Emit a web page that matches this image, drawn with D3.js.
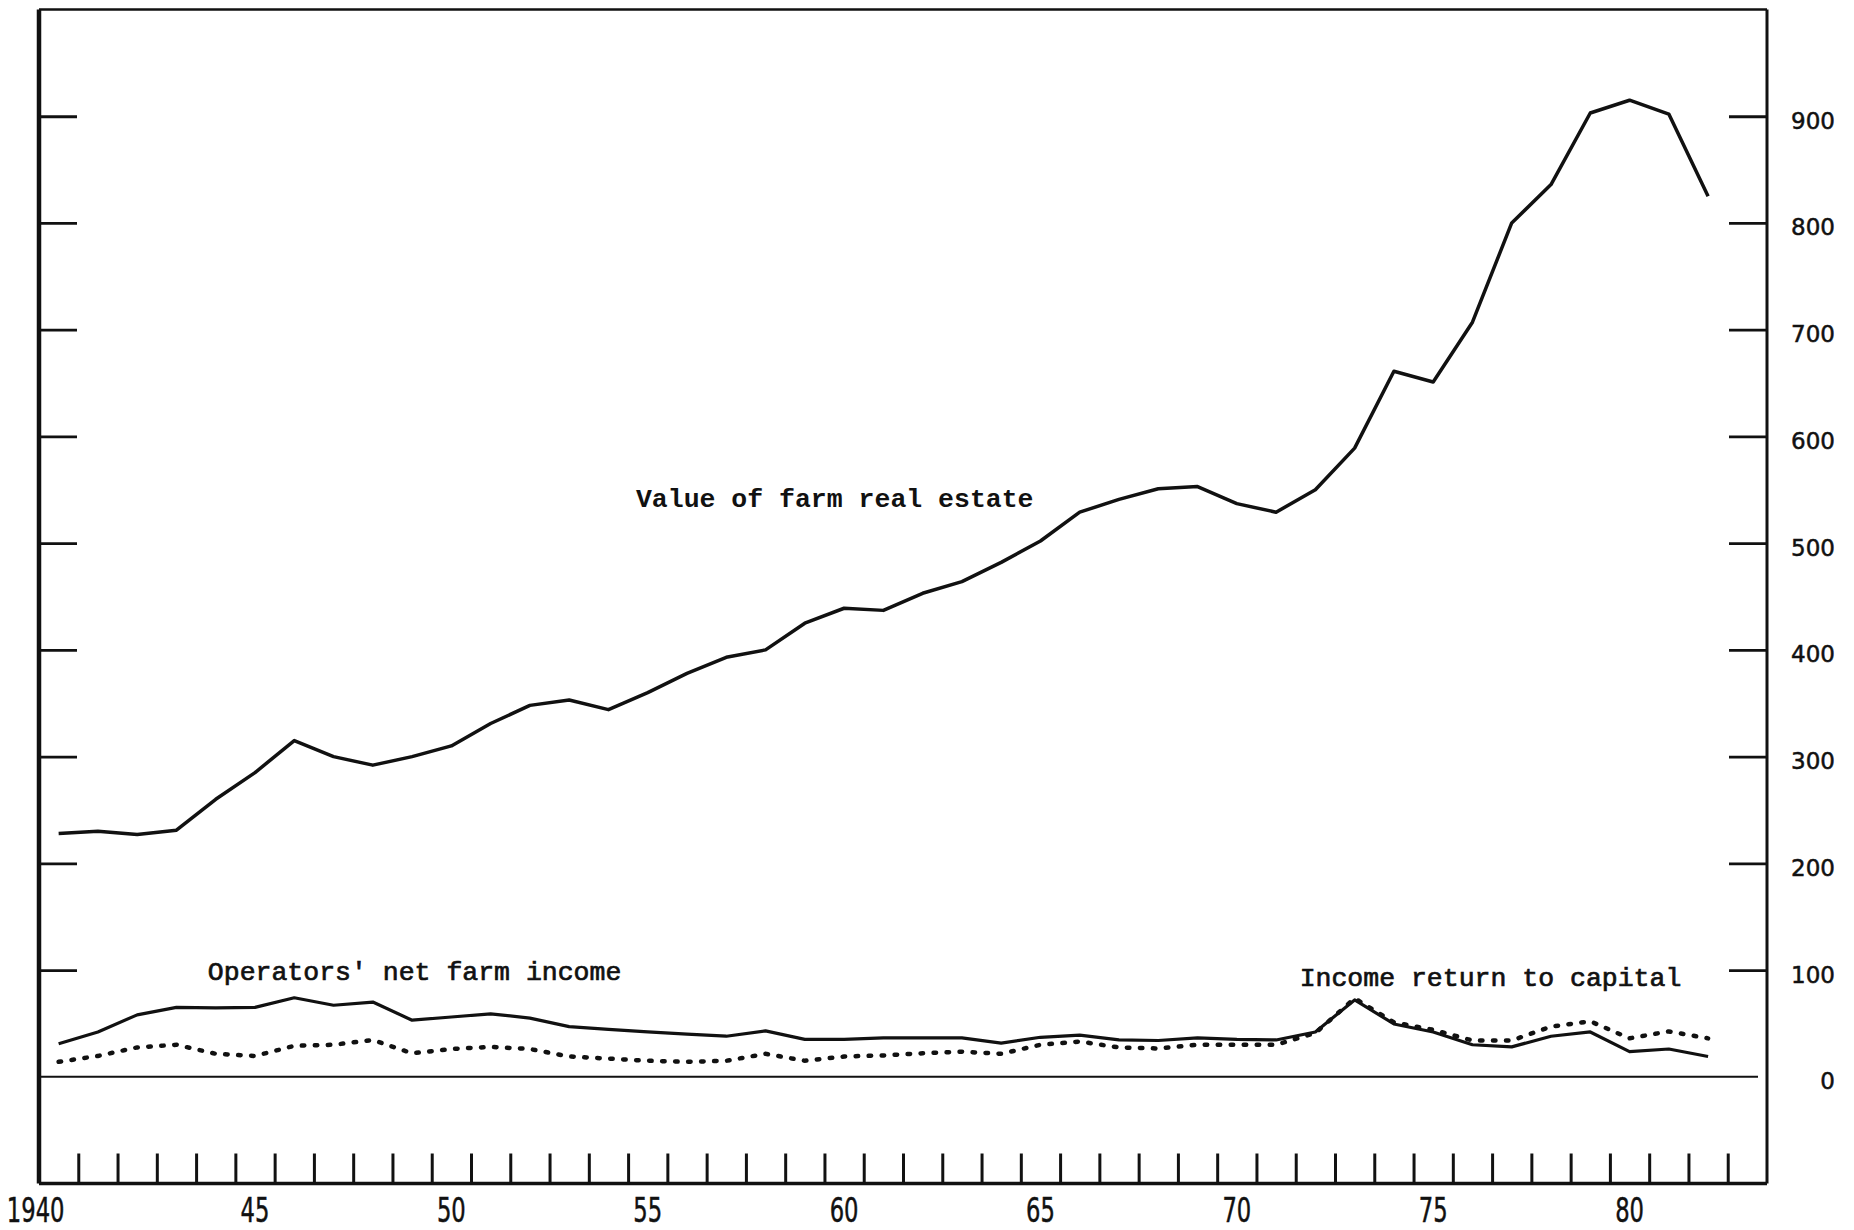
<!DOCTYPE html>
<html>
<head>
<meta charset="utf-8">
<script src="https://cdn.jsdelivr.net/npm/d3@7"></script>
<style>
  body { margin: 0; background: #fff; }
  svg { display: block; }
</style>
</head>
<body>
<div id="chart"></div>
<script>
var width = 1854,
    height = 1230;

// data (annual, plotted at mid-year)
var years = d3.range(1940, 1983);

var realEstate = [228, 230, 227, 231, 260, 285, 315, 300, 292, 300,
                  310, 331, 348, 353, 344, 360, 378, 393, 400, 425,
                  439, 437, 453, 464, 482, 502, 529, 541, 551, 553,
                  537, 529, 550, 589, 661, 651, 707, 800, 836, 903,
                  915, 902, 825];

var netIncome = [31, 42, 58, 65, 64.5, 65, 74, 67, 70, 53,
                 56, 59, 55, 47, 44.5, 42, 40, 38, 43, 35,
                 35, 36.5, 36.5, 36.5, 31.5, 37, 39, 34.5, 34, 36.5,
                 35, 34.5, 42, 72, 49.5, 42, 30, 28, 38, 42,
                 23.5, 26, 19];

var capitalReturn = [14, 19.5, 27.5, 30, 21.5, 19.5, 29, 30, 34.5, 22,
                     26, 28, 26, 19, 17, 15, 14, 15, 21.5, 15,
                     19, 20, 22, 23.5, 21.5, 30, 33, 27.5, 26.5, 30,
                     30, 30, 41, 73.5, 51, 44, 34, 34, 47, 52,
                     36, 42.5, 36];

var yTicks = [100, 200, 300, 400, 500, 600, 700, 800, 900];
var yLabels = [0, 100, 200, 300, 400, 500, 600, 700, 800, 900];
var xTicks = d3.range(1941, 1984);
var xLabelYears = [1940, 1945, 1950, 1955, 1960, 1965, 1970, 1975, 1980];
var xLabelText = ["1940", "45", "50", "55", "60", "65", "70", "75", "80"];

var svg = d3.select("#chart")
    .append("svg")
    .attr("width", width)
    .attr("height", height);

svg.append("rect")
    .attr("width", "100%")
    .attr("height", "100%")
    .attr("fill", "#fff");

var x = d3.scaleLinear().domain([1940, 1984]).range([39, 1767]);
var y = d3.scaleLinear().domain([-100, 1000]).range([1183.5, 9.5]);

var ink = "#111";

// frame
svg.append("line")
    .attr("x1", x(1940)).attr("x2", x(1984))
    .attr("y1", y(1000)).attr("y2", y(1000))
    .attr("stroke", ink).attr("stroke-width", 2.5);
svg.append("line")
    .attr("x1", x(1940)).attr("x2", x(1940))
    .attr("y1", y(1000)).attr("y2", y(-100))
    .attr("stroke", ink).attr("stroke-width", 4.5);
svg.append("line")
    .attr("x1", x(1984)).attr("x2", x(1984))
    .attr("y1", y(1000)).attr("y2", y(-100))
    .attr("stroke", ink).attr("stroke-width", 3);
svg.append("line")
    .attr("x1", x(1940)).attr("x2", x(1984))
    .attr("y1", y(-100)).attr("y2", y(-100))
    .attr("stroke", ink).attr("stroke-width", 3.5);

// zero line
svg.append("line")
    .attr("x1", x(1940)).attr("x2", x(1984) - 9)
    .attr("y1", y(0)).attr("y2", y(0))
    .attr("stroke", ink).attr("stroke-width", 2.2);

// left ticks (inward, no labels)
var leftAxis = svg.append("g")
    .attr("transform", "translate(" + x(1940) + ",0)")
    .call(d3.axisRight(y).tickValues(yTicks).tickSize(38).tickFormat(""));
leftAxis.select(".domain").remove();
leftAxis.selectAll("line").attr("stroke", ink).attr("stroke-width", 2.8);

// right ticks (inward) with labels outside
var rightAxis = svg.append("g")
    .attr("transform", "translate(" + x(1984) + ",0)")
    .call(d3.axisLeft(y).tickValues(yTicks).tickSize(38).tickFormat(""));
rightAxis.select(".domain").remove();
rightAxis.selectAll("line").attr("stroke", ink).attr("stroke-width", 2.8);

svg.append("g")
    .selectAll("text")
    .data(yLabels)
    .enter().append("text")
    .attr("x", x(1984) + 68)
    .attr("y", function(d) { return y(d) + 4.5; })
    .attr("text-anchor", "end")
    .attr("dominant-baseline", "central")
    .style("font-family", "'DejaVu Sans', sans-serif")
    .style("font-size", "23px")
    .attr("fill", ink)
    .attr("stroke", ink)
    .attr("stroke-width", 0.5)
    .text(function(d) { return d; });

// bottom ticks (upward)
var bottomAxis = svg.append("g")
    .attr("transform", "translate(0," + y(-100) + ")")
    .call(d3.axisTop(x).tickValues(xTicks).tickSize(30).tickFormat(""));
bottomAxis.select(".domain").remove();
bottomAxis.selectAll("line").attr("stroke", ink).attr("stroke-width", 3);

svg.append("g")
    .selectAll("text")
    .data(xLabelYears)
    .enter().append("text")
    .attr("transform", function(d, i) {
        var dx = i === 0 ? -23 : 0;
        return "translate(" + (x(d + 0.5) + dx) + ",1211) scale(0.84,1.1)";
    })
    .attr("text-anchor", "middle")
    .attr("dominant-baseline", "central")
    .style("font-family", "'Liberation Sans Narrow', 'DejaVu Sans Condensed', sans-serif")
    .style("font-stretch", "condensed")
    .style("font-size", "30px")
    .attr("fill", ink)
    .attr("stroke", ink)
    .attr("stroke-width", 0.4)
    .text(function(d, i) { return xLabelText[i]; });

// series
function seriesLine(values) {
    return d3.line()
        .x(function(d, i) { return x(years[i] + 0.5); })
        .y(function(d) { return y(d); })(values);
}

svg.append("path")
    .attr("d", seriesLine(realEstate))
    .attr("fill", "none")
    .attr("stroke", ink)
    .attr("stroke-width", 3.5)
    .attr("stroke-linejoin", "round");

svg.append("path")
    .attr("d", seriesLine(netIncome))
    .attr("fill", "none")
    .attr("stroke", ink)
    .attr("stroke-width", 3.2)
    .attr("stroke-linejoin", "round");

svg.append("path")
    .attr("d", seriesLine(capitalReturn))
    .attr("fill", "none")
    .attr("stroke", ink)
    .attr("stroke-width", 4.5)
    .attr("stroke-linecap", "round")
    .attr("stroke-dasharray", "2.5,10.5");

// series labels
var labels = [
    {text: "Value of farm real estate", year: 1940 + 15.2, value: 534, weight: "bold", sw: 0},
    {text: "Operators' net farm income", year: 1940 + 4.3, value: 91, weight: "normal", sw: 0.7},
    {text: "Income return to capital", year: 1940 + 32.1, value: 85, weight: "normal", sw: 0.7}
];

svg.append("g")
    .selectAll("text")
    .data(labels)
    .enter().append("text")
    .attr("x", function(d) { return x(d.year); })
    .attr("y", function(d) { return y(d.value); })
    .style("font-family", "'Liberation Mono', 'DejaVu Sans Mono', monospace")
    .style("font-size", "26.5px")
    .style("font-weight", function(d) { return d.weight; })
    .attr("fill", ink)
    .attr("stroke", ink)
    .attr("stroke-width", function(d) { return d.sw; })
    .text(function(d) { return d.text; });
</script>
</body>
</html>
